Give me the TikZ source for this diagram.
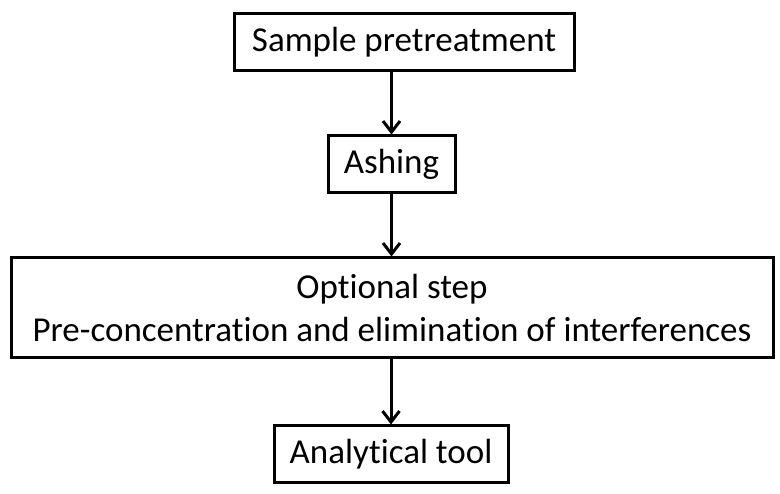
\documentclass[tikz,border=0pt]{standalone}
\usepackage{fontspec}
\setmainfont[Ligatures=NoCommon]{Carlito}
\usetikzlibrary{arrows.meta}
\begin{document}
\begin{tikzpicture}[x=1pt,y=-1pt,
  box/.style={draw=black,line width=3pt,inner sep=0pt,font=\fontsize{35}{43}\selectfont,align=center},
  flow/.style={line width=3pt,-{Straight Barb[length=11pt,width=17pt,line width=3pt]}}]
\useasboundingbox (0,0) rectangle (780,494);
\node[box,minimum width=340pt,minimum height=57pt] (s) at (404,42.5) {Sample pretreatment};
\node[box,minimum width=127pt,minimum height=57pt] (a) at (391.5,164.5) {Ashing};
\node[box,minimum width=762pt,minimum height=100pt] (o) at (392,308) {Optional step\\Pre-concentration and elimination of interferences};
\node[box,minimum width=234pt,minimum height=57pt] (t) at (391,454.5) {Analytical tool};
\draw[flow] (s.south -| a.north) -- (a.north);
\draw[flow] (a.south) -- (a.south |- o.north);
\draw[flow] (o.south -| t.north) -- (t.north);
\end{tikzpicture}
\end{document}
